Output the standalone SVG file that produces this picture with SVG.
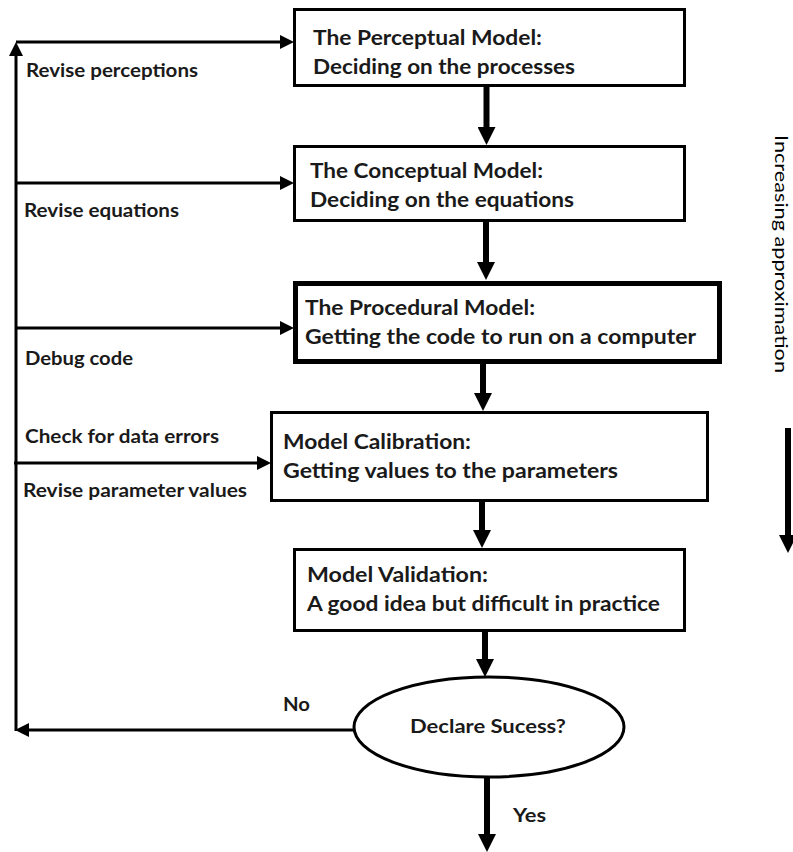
<svg xmlns="http://www.w3.org/2000/svg" width="793" height="852" viewBox="0 0 793 852">
  <style>
    .box { fill: #ffffff; stroke: #000000; stroke-width: 3; }
    .box-heavy { fill: #ffffff; stroke: #000000; stroke-width: 5; }
    .txt { font-family: Lato, "Open Sans", "Liberation Sans", sans-serif; font-weight: 700; font-size: 21px; fill: #1a1a1a; }
    .lbl { font-family: Lato, "Open Sans", "Liberation Sans", sans-serif; font-weight: 700; font-size: 19px; fill: #1a1a1a; }
    .side { font-family: Lato, "Open Sans", "Liberation Sans", sans-serif; font-weight: 400; font-size: 17px; fill: #000000; }
    .flow { fill: none; stroke: #000000; stroke-width: 6; }
    .back { fill: none; stroke: #000000; stroke-width: 3; }
  </style>
  <defs>
    <marker id="head-thick" markerUnits="userSpaceOnUse" markerWidth="18" markerHeight="18" refX="3" refY="9" orient="auto">
      <path d="M0,0 L18,9 L0,18 z" fill="#000000"/>
    </marker>
    <marker id="head-thin" markerUnits="userSpaceOnUse" markerWidth="14" markerHeight="14" refX="3" refY="7" orient="auto">
      <path d="M0,0 L14,7 L0,14 z" fill="#000000"/>
    </marker>
  </defs>

  <rect width="793" height="852" fill="#ffffff"/>

  <!-- connectors -->
  <g id="connectors">
    <!-- main downward flow -->
    <path class="flow" d="M486.5,87 V130" marker-end="url(#head-thick)"/>
    <path class="flow" d="M486,222 V265" marker-end="url(#head-thick)"/>
    <path class="flow" d="M483,364 V396" marker-end="url(#head-thick)"/>
    <path class="flow" d="M482,502 V533" marker-end="url(#head-thick)"/>
    <path class="flow" d="M485,632 V662" marker-end="url(#head-thick)"/>
    <path class="flow" d="M487,777 V837" marker-end="url(#head-thick)"/>
    <!-- side arrow -->
    <path class="flow" d="M788,428 V538" marker-end="url(#head-thick)"/>
    <!-- feedback loop -->
    <path class="back" d="M354,730 H26" marker-end="url(#head-thin)"/>
    <path class="back" d="M16,731 V53" marker-end="url(#head-thin)"/>
    <path class="back" d="M16,42 H283" marker-end="url(#head-thin)"/>
    <path class="back" d="M16,183 H283" marker-end="url(#head-thin)"/>
    <path class="back" d="M16,328 H283" marker-end="url(#head-thin)"/>
    <path class="back" d="M14,463 H260" marker-end="url(#head-thin)"/>
  </g>

  <!-- feedback labels -->
  <g id="labels">
    <text class="lbl" x="26" y="77" textLength="172" lengthAdjust="spacingAndGlyphs">Revise perceptions</text>
    <text class="lbl" x="24" y="217" textLength="155" lengthAdjust="spacingAndGlyphs">Revise equations</text>
    <text class="lbl" x="25" y="365" textLength="108" lengthAdjust="spacingAndGlyphs">Debug code</text>
    <text class="lbl" x="25" y="443" textLength="194" lengthAdjust="spacingAndGlyphs">Check for data errors</text>
    <text class="lbl" x="23" y="497" textLength="224" lengthAdjust="spacingAndGlyphs">Revise parameter values</text>
    <text class="lbl" x="283" y="711" textLength="27" lengthAdjust="spacingAndGlyphs">No</text>
    <text class="lbl" x="513" y="822" textLength="33" lengthAdjust="spacingAndGlyphs">Yes</text>
    <text class="side" transform="translate(775,135) rotate(90)" textLength="238" lengthAdjust="spacingAndGlyphs">Increasing approximation</text>
  </g>

  <g id="perceptual">
    <rect class="box" x="294.5" y="9.5" width="390" height="76"/>
    <text class="txt" x="313" y="45" textLength="229" lengthAdjust="spacingAndGlyphs">The Perceptual Model:</text>
    <text class="txt" x="313" y="74" textLength="262" lengthAdjust="spacingAndGlyphs">Deciding on the processes</text>
  </g>

  <g id="conceptual">
    <rect class="box" x="294.5" y="146.5" width="390" height="74"/>
    <text class="txt" x="310" y="178" textLength="233" lengthAdjust="spacingAndGlyphs">The Conceptual Model:</text>
    <text class="txt" x="310" y="207" textLength="264" lengthAdjust="spacingAndGlyphs">Deciding on the equations</text>
  </g>

  <g id="procedural">
    <rect class="box-heavy" x="295.5" y="283.5" width="424" height="78"/>
    <text class="txt" x="305" y="315" textLength="230" lengthAdjust="spacingAndGlyphs">The Procedural Model:</text>
    <text class="txt" x="305" y="344" textLength="391" lengthAdjust="spacingAndGlyphs">Getting the code to run on a computer</text>
  </g>

  <g id="calibration">
    <rect class="box" x="271.5" y="412.5" width="436" height="88"/>
    <text class="txt" x="283" y="449" textLength="188" lengthAdjust="spacingAndGlyphs">Model Calibration:</text>
    <text class="txt" x="283" y="478" textLength="335" lengthAdjust="spacingAndGlyphs">Getting values to the parameters</text>
  </g>

  <g id="validation">
    <rect class="box" x="294.5" y="549.5" width="390" height="81"/>
    <text class="txt" x="307" y="582" textLength="181" lengthAdjust="spacingAndGlyphs">Model Validation:</text>
    <text class="txt" x="307" y="611" textLength="353" lengthAdjust="spacingAndGlyphs">A good idea but difficult in practice</text>
  </g>

  <g id="decision">
    <ellipse class="box" cx="489" cy="727" rx="135" ry="50"/>
    <text class="lbl" x="410" y="733" textLength="156" lengthAdjust="spacingAndGlyphs">Declare Sucess?</text>
  </g>
</svg>
